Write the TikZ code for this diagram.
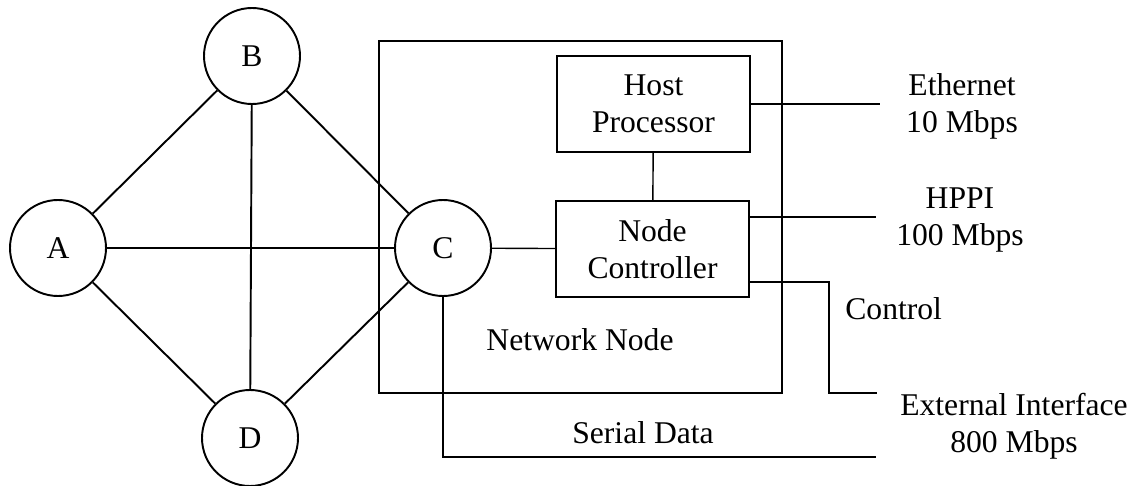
\documentclass[tikz,border=0pt]{standalone}
\usepackage{fontspec}
\setmainfont{Liberation Serif}
\usetikzlibrary{positioning}

\begin{document}
\begin{tikzpicture}[x=0.2mm, y=-0.2mm,
  every node/.style={font=\fontsize{18}{21}\selectfont},
  site/.style={draw, circle, line width=1.1pt, minimum size=19.2mm, inner sep=0pt},
  unit/.style={draw, line width=0.8pt, minimum width=38.6mm, minimum height=19.2mm, align=center},
  link/.style={line width=1.1pt},
  wire/.style={line width=0.8pt},
  tag/.style={align=center, inner sep=0pt}]
  \useasboundingbox (0,0) rectangle (1135,486);

  % the network node enclosure
  \node[draw, line width=0.8pt, minimum width=80.6mm, minimum height=70.4mm] (net) at (580.5,217) {};

  % four sites of the mesh
  \node[site] (A) at (58,248) {A};
  \node[site] (B) at (252,56) {B};
  \node[site] (C) at (443,248) {C};
  \node[site] (D) at (250,438) {D};
  \draw[link] (A) -- (B);
  \draw[link] (A) -- (C);
  \draw[link] (A) -- (D);
  \draw[link] (B) -- (C);
  \draw[link] (B) -- (D);
  \draw[link] (C) -- (D);

  % inside the node
  \node[unit] (host) at (653.5,104) {Host\\Processor};
  \node[unit] (ctrl) at (652.5,249) {Node\\Controller};
  \draw[wire] (host) -- (ctrl);
  \draw[wire] (C) -- (ctrl);
  \node[tag] (netlbl) at (580,340) {Network Node};

  % outside links
  \coordinate (eth) at (880,104);
  \coordinate (hppi) at (876,217);
  \coordinate (ctl) at (829,282);
  \coordinate (ext) at (877,393);
  \coordinate (ser) at (876,457);
  \draw[wire] (host.east) -- (eth);
  \draw[wire] (ctrl.east |- hppi) -- (hppi);
  \draw[wire] (ctrl.east |- ctl) -- (ctl) |- (ext);
  \draw[wire] (C) |- (ser);

  \node[tag] (ethlbl) at (962,106) {Ethernet\\10 Mbps};
  \node[tag] (hppilbl) at (960,220) {HPPI\\100 Mbps};
  \node[tag, anchor=west] (ctllbl) at (845,309) {Control};
  \node[tag] (extlbl) at (1014,426) {External Interface\\800 Mbps};
  \node[tag] (serlbl) at (643,433) {Serial Data};
\end{tikzpicture}
\end{document}
